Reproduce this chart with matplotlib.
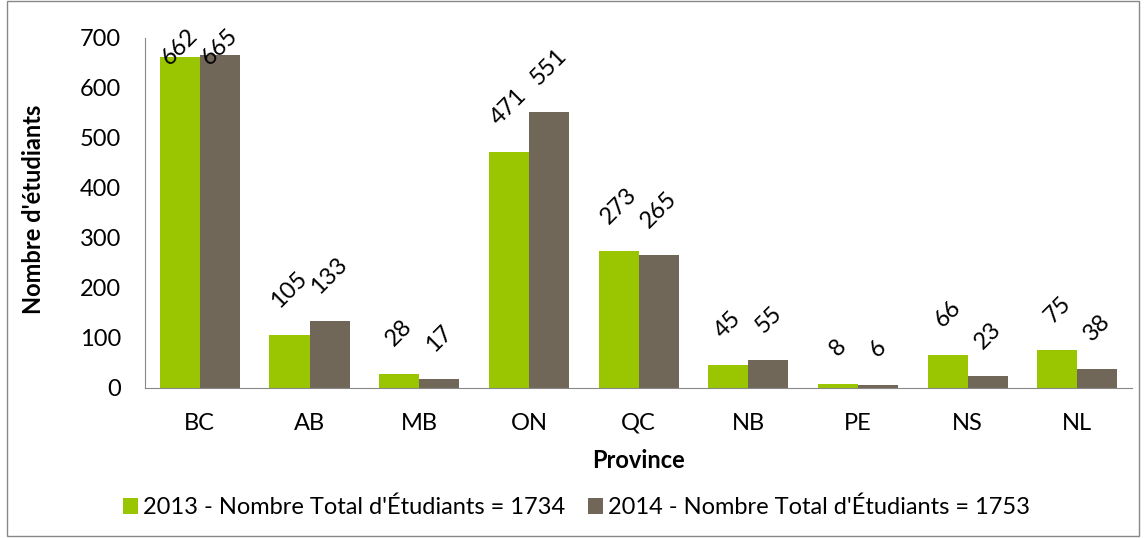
import matplotlib.pyplot as plt
import numpy as np
from matplotlib.patches import Rectangle

provinces = ['BC', 'AB', 'MB', 'ON', 'QC', 'NB', 'PE', 'NS', 'NL']
etudiants_2013 = [662, 105, 28, 471, 273, 45, 8, 66, 75]
etudiants_2014 = [665, 133, 17, 551, 265, 55, 6, 23, 38]
label_2013 = "2013 - Nombre Total d'Étudiants = 1734"
label_2014 = "2014 - Nombre Total d'Étudiants = 1753"

plt.rcParams['font.family'] = ['Lato', 'DejaVu Sans']
FS = 17

fig = plt.figure(figsize=(11.46, 5.38), dpi=100)
ax = fig.add_axes([0.1265, 0.279, 0.8615, 0.651])

x = np.arange(len(provinces))
w = 0.365
b1 = ax.bar(x - w / 2, etudiants_2013, w, color='#99c600', label=label_2013)
b2 = ax.bar(x + w / 2, etudiants_2014, w, color='#716759', label=label_2014)

for bars, vals in [(b1, etudiants_2013), (b2, etudiants_2014)]:
    for bar, v in zip(bars, vals):
        cx = bar.get_x() + bar.get_width() / 2
        if v > 600:
            # Excel pushes labels back inside the chart area when they don't fit
            ax.annotate(str(v), (cx, 1.0), xycoords=('data', 'axes fraction'),
                        xytext=(0, 9), textcoords='offset points',
                        rotation=45, ha='center', va='top', fontsize=FS)
        else:
            ax.annotate(str(v), (cx, v), xytext=(0, 17), textcoords='offset points',
                        rotation=45, ha='center', va='bottom', fontsize=FS)

ax.set_xlim(-0.5, len(provinces) - 0.5)
ax.set_ylim(0, 700)
ax.set_yticks(range(0, 701, 100))
ax.set_xticks(x)
ax.set_xticklabels(provinces)
ax.tick_params(length=0, labelsize=FS)
ax.tick_params(axis='y', pad=17)
ax.tick_params(axis='x', pad=18)

for s in ['top', 'right']:
    ax.spines[s].set_visible(False)
for s in ['left', 'bottom']:
    ax.spines[s].set_color('#888888')

ax.set_xlabel('Province', fontsize=FS, fontweight='bold')
ax.set_ylabel("Nombre d'étudiants", fontsize=FS, fontweight='bold')
ax.xaxis.set_label_coords(0.5, -0.175)
ax.yaxis.set_label_coords(-0.101, 0.51)

ax.legend(loc='upper center', bbox_to_anchor=(0.437, -0.25), ncol=2,
          frameon=False, fontsize=FS, handlelength=0.64, handleheight=0.64,
          handletextpad=0.2, columnspacing=1.0)

fig.patches.append(Rectangle((0.006, 0.004), 0.988, 0.994, transform=fig.transFigure,
                             fill=False, edgecolor='#888888', lw=1))

fig.savefig('out.png', dpi=100)
